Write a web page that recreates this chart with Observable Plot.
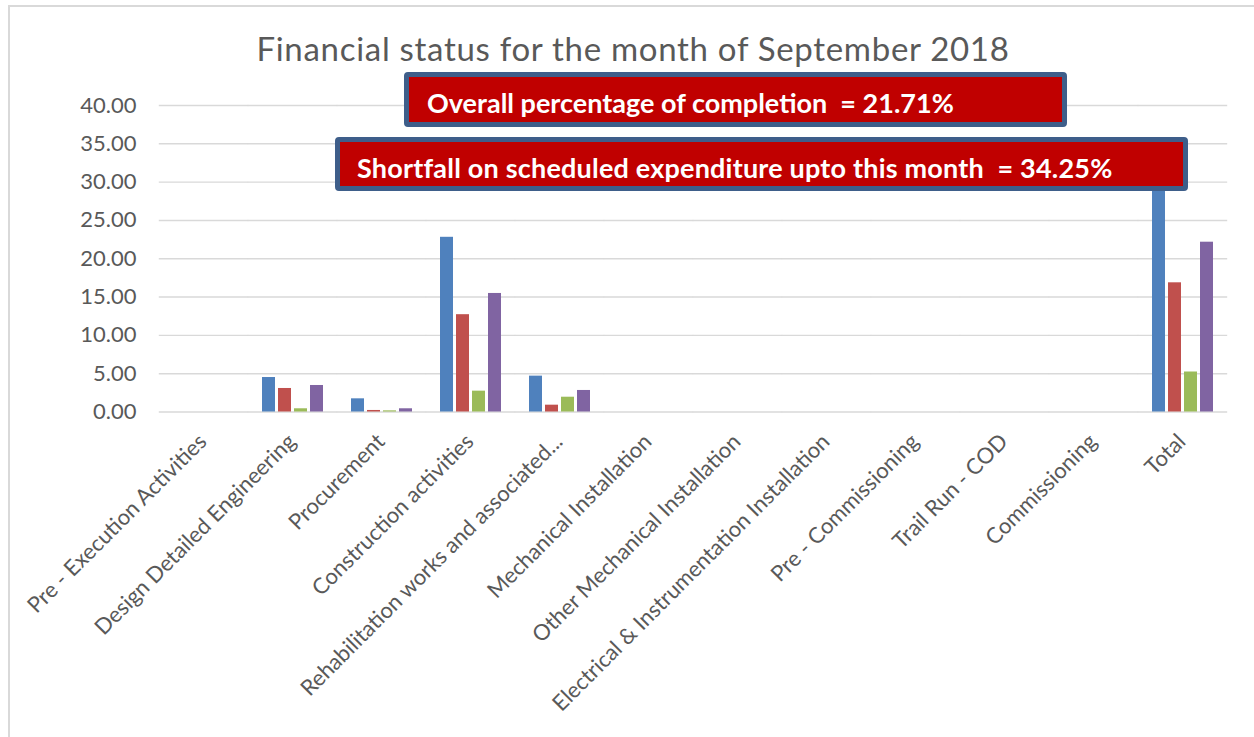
<!DOCTYPE html>
<html>
<head>
<meta charset="utf-8">
<script src="https://cdn.jsdelivr.net/npm/d3@7"></script>
<script src="https://cdn.jsdelivr.net/npm/@observablehq/plot@0.6"></script>
<style>
html,body{margin:0;padding:0;background:#fff;overflow:hidden;width:1254px;height:737px;}
#wrap{position:relative;width:1254px;height:737px;overflow:hidden;}
#frame{position:absolute;left:8px;top:5px;width:1400px;height:900px;border:2px solid #d9d9d9;box-sizing:border-box;}
#chart{position:absolute;left:0;top:0;}
#title{position:absolute;left:0;width:1266px;text-align:center;top:28px;font-family:Lato,sans-serif;font-size:33px;letter-spacing:0.7px;color:#595959;white-space:nowrap;}
.box{position:absolute;background:#C00000;border:5px solid #3E5E8A;border-radius:4px;box-sizing:border-box;color:#fff;font-family:Lato,sans-serif;font-weight:bold;font-size:27px;display:flex;align-items:center;white-space:pre;padding-top:6px;}
#box1{left:404px;top:72px;width:663px;height:55px;padding-left:18px;}
#box2{left:335px;top:137px;width:853px;height:54px;padding-left:17px;letter-spacing:0.2px;}
</style>
</head>
<body>
<div id="wrap">
  <div id="frame"></div>
  <div id="chart"></div>
  <div id="title">Financial status for the month of September 2018</div>
  <div class="box" id="box1">Overall percentage of completion  = 21.71%</div>
  <div class="box" id="box2">Shortfall on scheduled expenditure upto this month  = 34.25%</div>
</div>
<script>
const categories = [
  "Pre - Execution Activities",
  "Design Detailed Engineering",
  "Procurement",
  "Construction activities",
  "Rehabilitation works and associated...",
  "Mechanical Installation",
  "Other Mechanical Installation",
  "Electrical & Instrumentation Installation",
  "Pre - Commissioning",
  "Trail Run - COD",
  "Commissioning",
  "Total"
];
const seriesNames = ["Series 1", "Series 2", "Series 3", "Series 4"];
const series1 = [0, 4.50, 1.72, 22.80, 4.68, 0, 0, 0, 0, 0, 0, 33.70];
const series2 = [0, 3.07, 0.20, 12.70, 0.89, 0, 0, 0, 0, 0, 0, 16.86];
const series3 = [0, 0.42, 0.15, 2.72, 1.93, 0, 0, 0, 0, 0, 0, 5.22];
const series4 = [0, 3.46, 0.42, 15.47, 2.81, 0, 0, 0, 0, 0, 0, 22.16];
const seriesColors = ["#4F81BD", "#C0504D", "#9BBB59", "#8064A2"];
const yTicks = [0, 5, 10, 15, 20, 25, 30, 35, 40];

const allSeries = [series1, series2, series3, series4];
const rows = [];
categories.forEach((c, i) => {
  seriesNames.forEach((s, j) => rows.push({category: c, series: s, value: allSeries[j][i]}));
});

const chart = Plot.plot({
  width: 1254,
  height: 737,
  marginLeft: 158,
  marginRight: 26,
  marginTop: 105,
  marginBottom: 325.5,
  style: {fontFamily: "Lato, sans-serif", fontSize: "22px", color: "#595959", background: "transparent", overflow: "visible"},
  fx: {domain: categories, paddingInner: 0.316, paddingOuter: 0.158, label: null, axis: null},
  x: {domain: seriesNames, paddingInner: 0.19, paddingOuter: 0, axis: null},
  y: {domain: [0, 40], label: null, axis: null},
  color: {domain: seriesNames, range: seriesColors},
  marks: [
    Plot.ruleY(yTicks, {stroke: "#d9d9d9", strokeWidth: 1.4, insetLeft: -14.2, insetRight: -14.2}),
    Plot.barY(rows, {fx: "category", x: "series", y: "value", fill: "series"}),
    Plot.axisY(yTicks, {anchor: "left", tickSize: 0, tickPadding: 37, tickFormat: d => d.toFixed(2), label: null, fill: "#595959"}),
    Plot.axisFx({anchor: "bottom", tickSize: 0, tickPadding: 0, tickRotate: -45, textAnchor: "end", lineAnchor: "middle", dx: -1, dy: 26, label: null, fill: "#595959"})
  ]
});
document.getElementById("chart").appendChild(chart);
</script>
</body>
</html>
